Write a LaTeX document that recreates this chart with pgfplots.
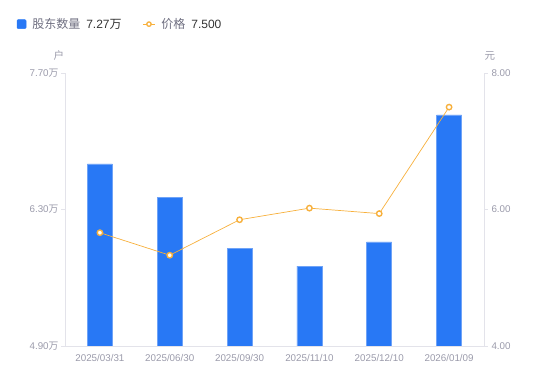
\documentclass[border=0pt]{standalone}
\usepackage{pgfplots}
\pgfplotsset{compat=1.18}
\usepackage{fontspec}
\setmainfont{Liberation Sans}
\newfontfamily\cjk{Noto Sans CJK SC}
\definecolor{barblue}{HTML}{2878F5}
\definecolor{baredge}{HTML}{6FA3F7}
\definecolor{lineorange}{HTML}{F7B03C}
\definecolor{axgray}{HTML}{E3E3EA}
\definecolor{tickgray}{HTML}{9A9AAA}
\definecolor{legray}{HTML}{6E6E80}
\definecolor{txtdark}{HTML}{333333}
\begin{document}
\begin{tikzpicture}[x=1pt,y=1pt]
\path[use as bounding box] (0,0) rectangle (550,381);
\begin{axis}[
  at={(65pt,35pt)}, anchor=south west,
  scale only axis, width=419pt, height=273pt,
  xmin=-0.5, xmax=5.5, ymin=4.9, ymax=7.7,
  axis x line*=bottom, axis y line*=left,
  axis line style={axgray, line width=0.8pt},
  xtick={0,1,2,3,4,5},
  xticklabels={2025/03/31,2025/06/30,2025/09/30,2025/11/10,2025/12/10,2026/01/09},
  xtick style={draw=none},
  ytick={4.9,6.3,7.7},
  yticklabels={4.90{\cjk 万},6.30{\cjk 万},7.70{\cjk 万}},
  ytick style={axgray, line width=0.8pt},
  tick align=outside, major tick length=4pt,
  tick label style={font=\fontsize{9.8}{11}\selectfont, text=tickgray},
  yticklabel style={xshift=1pt},
  xticklabel style={yshift=-1pt},
  ybar, bar width=25pt,
  clip=true,
]
\addplot[ybar, fill=barblue, draw=baredge, line width=0.5pt, bar shift=0pt]
  coordinates {(0,6.767) (1,6.428) (2,5.905) (3,5.720) (4,5.967) (5,7.27)};
\end{axis}
\begin{axis}[
  at={(65pt,35pt)}, anchor=south west,
  scale only axis, width=419pt, height=273pt,
  xmin=-0.5, xmax=5.5, ymin=4, ymax=8,
  axis x line=none, axis y line*=right,
  axis line style={axgray, line width=0.8pt},
  ytick={4,6,8}, yticklabels={4.00,6.00,8.00},
  ytick style={axgray, line width=0.8pt},
  tick align=outside, major tick length=4pt,
  tick label style={font=\fontsize{9.8}{11}\selectfont, text=tickgray},
  clip=false,
  legend columns=2,
  legend style={draw=none, fill=none, at={(-0.1225,1.179)}, anchor=west,
    font=\cjk\fontsize{12}{14}\selectfont, text=legray,
    /tikz/every odd column/.append style={column sep=4pt},
    /tikz/every even column/.append style={column sep=19pt}},
  legend cell align=left,
]
\addlegendimage{legend image code/.code={\fill[barblue, rounded corners=1pt] (0pt,-4.5pt) rectangle (9pt,4.5pt);}}
\addlegendentry{股东数量\hspace{6pt}\textcolor{txtdark}{\fontspec{Liberation Sans}7.27}\textcolor{txtdark}{万}}
\addplot[lineorange, line width=0.7pt, mark=*, mark size=2.7pt,
  mark options={fill=white, draw=lineorange, line width=1.4pt},
  legend image code/.code={\draw[lineorange, line width=0.7pt] (0pt,0pt) -- (12pt,0pt); \draw[lineorange, fill=white, line width=1.3pt] (6pt,0pt) circle (2.2pt);}]
  coordinates {(0,5.66) (1,5.33) (2,5.85) (3,6.02) (4,5.94) (5,7.50)};
\addlegendentry{价格\hspace{6pt}\textcolor{txtdark}{\fontspec{Liberation Sans}7.500}}
\node[font=\cjk\fontsize{10.5}{12}\selectfont, text=tickgray] at ([xshift=-6pt,yshift=17pt]rel axis cs:0,1) {户};
\node[font=\cjk\fontsize{10.5}{12}\selectfont, text=tickgray] at ([xshift=6pt,yshift=17pt]rel axis cs:1,1) {元};
\end{axis}
\end{tikzpicture}
\end{document}
